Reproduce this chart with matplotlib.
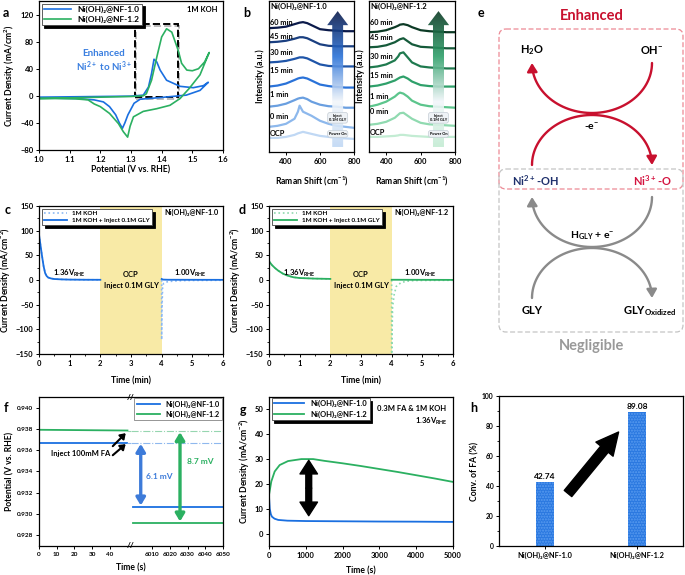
import numpy as np
import matplotlib
matplotlib.use("Agg")
from matplotlib import pyplot as plt
from matplotlib import patches
from matplotlib.path import Path
from matplotlib.colors import LinearSegmentedColormap

plt.rcParams["font.family"] = ["Lato", "DejaVu Sans"]
plt.rcParams["font.weight"] = "bold"
plt.rcParams["axes.labelweight"] = "bold"
plt.rcParams["mathtext.default"] = "regular"
plt.rcParams["axes.linewidth"] = 0.9
plt.rcParams["xtick.labelsize"] = 5.5
plt.rcParams["ytick.labelsize"] = 5.5
plt.rcParams["axes.labelsize"] = 6.2
plt.rcParams["axes.labelpad"] = 2
for k in ["xtick", "ytick"]:
    plt.rcParams[k + ".major.size"] = 2.5
    plt.rcParams[k + ".major.width"] = 0.7
    plt.rcParams[k + ".minor.size"] = 1.5
    plt.rcParams[k + ".minor.width"] = 0.6
    plt.rcParams[k + ".major.pad"] = 1.5

BLUE = "#1a6fe0"
GREEN = "#2bb061"
NAME1 = "Ni(OH)\u2082@NF-1.0"
NAME2 = "Ni(OH)\u2082@NF-1.2"

# ---- a: CV curves
cv1_v = [1.0, 1.1, 1.2, 1.3, 1.34, 1.357, 1.367, 1.375, 1.384, 1.395, 1.416, 1.46, 1.503, 1.536, 1.552,
         1.525, 1.48, 1.395, 1.33, 1.31, 1.29, 1.28, 1.272, 1.262, 1.25, 1.23, 1.21, 1.18, 1.12, 1.0]
cv1_j = [-2, -1.5, -1, -0.5, 1, 13, 33, 54, 50, 38, 23, 14, 12, 15, 20,
         8, 1, -2.6, -5, -11, -28, -40, -48, -40, -28, -16, -9, -6, -4, -3]
cv2_v = [1.0, 1.1, 1.2, 1.3, 1.34, 1.35, 1.367, 1.384, 1.40, 1.416, 1.433, 1.454, 1.465, 1.482, 1.50, 1.52,
         1.54, 1.555,
         1.525, 1.49, 1.46, 1.427, 1.384, 1.34, 1.308, 1.297, 1.289, 1.275, 1.259, 1.23, 1.20, 1.18, 1.16,
         1.12, 1.05, 1.0]
cv2_j = [-4, -3, -2, -1, 0, 3, 23, 57, 87, 99, 94, 67, 48, 38, 37, 40, 50, 64,
         31, 11, -4, -14, -19, -23, -31, -45, -61, -53, -41, -26, -16, -12, -6, -4.5, -4, -4]

# ---- b: Raman spectra
raman_x = [300, 350, 400, 450, 470, 480, 500, 525, 550, 600, 650, 700, 750, 800]
raman_labels = ["60 min", "45 min", "30 min", "15 min", "1 min", "0 min", "OCP"]
raman1 = [
    [123, 123.5, 124.5, 127, 128, 128.5, 129, 128, 126, 122, 121, 120.5, 120, 120],
    [109, 109.5, 110.5, 112.5, 113.5, 114, 114, 113, 111, 107, 105.5, 105, 105, 105],
    [89, 89.5, 90.5, 92.5, 93.5, 94, 94, 93, 91, 87, 85.5, 85, 85, 85],
    [65, 66, 68, 71.5, 73, 73.5, 74, 73, 71, 67, 65.5, 64.5, 64, 64],
    [45, 46, 48, 51.5, 53, 53.5, 54, 52.5, 50, 47, 45.5, 45, 44, 44],
    [25, 26, 28, 33, 40, 46, 40, 38, 36, 31, 28, 26, 25, 24],
    [14, 14, 15, 17, 18.5, 19, 20, 19, 18, 16, 15, 14, 13.5, 13],
]
raman2 = [
    [119, 119.5, 121, 124, 125.5, 126.5, 127, 126, 124, 121, 120, 119.5, 119, 119],
    [104, 104.5, 106, 109, 111, 112, 113, 110, 107, 104.5, 104, 103.5, 103, 103],
    [84, 85, 87, 91, 95, 98, 99, 94, 89, 85, 84, 83.5, 83, 83],
    [65, 66, 68, 71, 73, 74, 75, 73, 70, 66.5, 65.5, 65, 65, 65],
    [45, 47, 50, 55, 58, 59, 58, 55, 51, 47, 45.5, 45, 44.5, 44],
    [27, 28, 30, 34, 37, 38.5, 39, 36, 33, 29, 27.5, 27, 26.5, 26],
    [15, 15, 15.5, 16, 16.5, 17, 17, 16.5, 16, 15.5, 15, 15, 15, 15],
]
raman_label_y1 = [129, 115, 99, 81, 57, 35, 18]
raman_label_y2 = [129, 114, 95, 76, 55, 40, 19]
raman_colors1 = ["#0b1a4a", "#1a3f80", "#1f55a8", "#2a72d8", "#6a9fe0", "#8db8ec", "#c0d8f4"]
raman_colors2 = ["#0c3a25", "#155a3a", "#1f7a4f", "#2fa06a", "#5cc58c", "#90dab0", "#c3ecd3"]

# ---- c, d: chronoamperometry
c_t_on = [0, 0.05, 0.1, 0.15, 0.2, 0.25, 0.3, 0.4, 0.5, 0.75, 1.0, 1.5, 2.0]
c_j_on = [92, 70, 48, 28, 14, 8, 5, 3, 2, 1.2, 0.8, 0.5, 0.4]
c_t_off = [4.0, 4.05, 4.2, 6.0]
c_j_off = [2, 0.8, 0.5, 0.3]
c_t_koh = [4.0, 4.0, 4.01, 4.03, 4.06, 4.15, 4.4, 4.8, 6.0]
c_j_koh = [0, -121, -60, -15, -7, -4, -2, -1, -0.5]
d_t_on = [0, 0.1, 0.2, 0.3, 0.45, 0.6, 0.8, 1.0, 1.5, 2.0]
d_j_on = [38, 30, 24, 19, 13, 9, 5.5, 4, 2.8, 2.2]
d_t_off = [4.0, 6.0]
d_j_off = [0.5, 0.2]
d_t_koh = [4.0, 4.0, 4.03, 4.08, 4.15, 4.31, 4.5, 4.75, 6.0]
d_j_koh = [0, -150, -55, -30, -13, -5, -2.5, -1, -0.5]

# ---- f: potential before / after FA injection
f_t_before = [0, 50]
f_blue_before = [0.9367, 0.9367]
f_green_before = [0.93792, 0.93785]
f_t_after = [5999, 6050]
f_blue_after = [0.93065, 0.93065]
f_green_after = [0.92915, 0.92915]
f_yticks = [0.928, 0.930, 0.932, 0.934, 0.936, 0.938, 0.940]

# ---- g: current vs time
g_t1 = [0, 20, 50, 80, 150, 250, 500, 1000, 2000, 3000, 4000, 5000]
g_j1 = [15, 10, 7.8, 6.8, 6.0, 5.5, 5.2, 5.05, 4.95, 4.85, 4.8, 4.7]
g_t2 = [0, 0, 63, 154, 290, 517, 880, 1200, 1500, 2000, 2500, 3000, 3500, 4000, 4500, 5000]
g_j2 = [60, 15.6, 21, 25, 27.6, 29.2, 30.0, 30.0, 29.3, 28.3, 27.2, 26.0, 24.8, 23.5, 22.2, 20.8]

# ---- h: conversion
h_names = [NAME1, NAME2]
h_vals = [42.74, 89.08]

W, H = 685, 575
fig = plt.figure(figsize=(6.85, 5.75), dpi=100)


def px_axes(l, t, r, b):
    return fig.add_axes([l / W, 1 - b / H, (r - l) / W, (b - t) / H])


def shadow_legend(ax, **kw):
    leg = ax.legend(frameon=True, fancybox=False, shadow={"color": "black", "alpha": 1}, **kw)
    leg.get_frame().set_edgecolor("#444444")
    leg.get_frame().set_linewidth(0.6)
    return leg


# ================= a
ax = px_axes(39, 1, 223, 150)
ax.plot(cv1_v, cv1_j, color=BLUE, lw=1.2, label=NAME1)
ax.plot(cv2_v, cv2_j, color=GREEN, lw=1.2, label=NAME2)
ax.set_xlim(1.0, 1.6)
ax.set_ylim(-80, 140)
ax.set_xticks(np.arange(1.0, 1.61, 0.1))
ax.set_yticks([-80, -40, 0, 40, 80, 120])
ax.set_xlabel("Potential (V vs. RHE)")
ax.set_ylabel("Current Density (mA/cm$^2$)")
shadow_legend(ax, loc="upper left", bbox_to_anchor=(0.0, 1.0), fontsize=6,
              handlelength=3.2, borderpad=0.3, labelspacing=0.3, borderaxespad=0.3)
ax.text(1.583, 128, "1M KOH", ha="right", va="center", fontsize=5.5)
ax.text(1.212, 51, "Enhanced\nNi$^{2+}$ to Ni$^{3+}$", ha="center", va="center", color="#3a7fe0",
        fontsize=7, linespacing=1.1)
ax.add_patch(patches.Rectangle((1.317, -5), 0.14, 108, fill=False, ec="#bbbbbb", lw=1.4, ls="--"))
ax.add_patch(patches.Rectangle((1.313, -2), 0.14, 108, fill=False, ec="black", lw=1.4, ls="--"))

# ================= b
for (l, r), name, spectra, ylabs, cols in [
    ((269, 354), NAME1, raman1, raman_label_y1, raman_colors1),
    ((369, 455), NAME2, raman2, raman_label_y2, raman_colors2),
]:
    ax = px_axes(l, 1, r, 152)
    for s, lab, ly, c in zip(spectra, raman_labels, ylabs, cols):
        ax.plot(raman_x, s, color=c, lw=1.6)
        ax.text(306, ly, lab, ha="left", va="center", fontsize=5.3)
    ax.text(308, 145, name, ha="left", va="center", fontsize=5.5)
    # gradient arrow
    verts = [(672, 5), (736, 5), (736, 126), (766, 126), (704, 140), (642, 126), (672, 126)]
    poly = patches.Polygon(verts, closed=True, fc="none", ec="none")
    ax.add_patch(poly)
    cmap = LinearSegmentedColormap.from_list("g", [cols[-1], "#f3f7fb", cols[3], cols[0]])
    grad = np.linspace(0, 1, 256).reshape(-1, 1)
    im = ax.imshow(grad, extent=(640, 768, 5, 140), origin="lower", cmap=cmap, aspect="auto",
                   alpha=0.9, zorder=3)
    im.set_clip_path(poly)
    bb = dict(boxstyle="round,pad=0.35,rounding_size=0.6", fc="#eef2f6", ec="#c5cdd5", lw=0.5)
    ax.text(704, 34, "Inject\n0.1M GLY", ha="center", va="center", fontsize=2.8, bbox=bb, zorder=4,
            linespacing=1.0)
    ax.text(704, 18, "Power On", ha="center", va="center", fontsize=2.8, bbox=bb, zorder=4)
    ax.set_xlim(300, 800)
    ax.set_ylim(0, 150)
    ax.set_xticks([400, 600, 800])
    ax.set_yticks([])
    ax.set_xlabel("Raman Shift (cm$^{-1}$)", labelpad=7)
    ax.set_ylabel("Intensity (a.u.)", labelpad=3)

# ================= c, d
for (l, r), name, col, dcol, t_on, j_on, t_off, j_off, t_k, j_k in [
    ((39, 223), NAME1, BLUE, "#8ab8f2", c_t_on, c_j_on, c_t_off, c_j_off, c_t_koh, c_j_koh),
    ((269, 453), NAME2, GREEN, "#8fd8ad", d_t_on, d_j_on, d_t_off, d_j_off, d_t_koh, d_j_koh),
]:
    ax = px_axes(l, 206, r, 354)
    ax.axvspan(2, 4, color="#f8eaa6", lw=0, zorder=0)
    ax.plot(t_on, j_on, color=dcol, lw=1.2, ls=":")
    ax.plot(t_k, j_k, color=dcol, lw=1.2, ls=":", label="1M KOH")
    ax.plot(t_on, j_on, color=col, lw=1.3, label="1M KOH + Inject 0.1M GLY")
    ax.plot(t_off, j_off, color=col, lw=1.3)
    ax.set_xlim(0, 6)
    ax.set_ylim(-150, 150)
    ax.set_xticks(range(0, 7))
    ax.set_yticks(range(-150, 151, 50))
    ax.set_xticks(np.arange(0, 6.01, 0.5), minor=True)
    ax.set_yticks(range(-150, 151, 25), minor=True)
    ax.set_xlabel("Time (min)", labelpad=7)
    ax.set_ylabel("Current Density (mA/cm$^{-2}$)")
    shadow_legend(ax, loc="upper left", bbox_to_anchor=(0.01, 0.99), fontsize=4.6,
                  handlelength=3.6, borderpad=0.3, labelspacing=0.25, borderaxespad=0.2)
    ax.text(5.85, 137, name, ha="right", va="center", fontsize=5.2)
    ax.text(1.0, 13, "1.36V$_{RHE}$", ha="center", va="center", fontsize=5.5)
    ax.text(3, 12, "OCP", ha="center", va="center", fontsize=5.5)
    ax.text(3, -12, "Inject 0.1M GLY", ha="center", va="center", fontsize=5.5)
    ax.text(4.95, 13, "1.00V$_{RHE}$", ha="center", va="center", fontsize=5.5)

# ================= e (scheme, pixel coordinates)
ax = px_axes(470, 0, 685, 440)
ax.set_xlim(470, 685)
ax.set_ylim(440, 0)
ax.axis("off")
RED = "#c8102e"
GREY = "#8a8a8a"
ax.add_patch(patches.FancyBboxPatch((499, 29), 184, 160, boxstyle="round,pad=0,rounding_size=7",
                                    fc="none", ec="#ec8a95", lw=0.9, ls=(0, (4, 2))))
ax.add_patch(patches.FancyBboxPatch((499, 169), 184, 163, boxstyle="round,pad=0,rounding_size=7",
                                    fc="none", ec="#c4c4c4", lw=0.9, ls=(0, (4, 2))))


def arc(y_end, sign, color, reverse):
    th = np.linspace(0, np.pi, 60)
    x = 592 - 60 * np.cos(th)
    y = y_end + sign * 50 * np.sin(th)
    pts = np.column_stack([x, y])
    if reverse:
        pts = pts[::-1]
    ax.add_patch(patches.FancyArrowPatch(path=Path(pts), arrowstyle="-|>,head_length=0.5,head_width=0.3",
                                         mutation_scale=10, color=color, lw=1.7))


arc(63, 1, RED, True)      # OH- -> H2O
arc(165, -1, RED, False)   # Ni2+ -> Ni3+
arc(197, 1, GREY, True)    # Ni3+ -> Ni2+
arc(298, -1, GREY, False)  # GLY -> GLY oxidized
ax.text(592, 16, "Enhanced", ha="center", va="center", color=RED, fontsize=10.5)
ax.text(592, 346, "Negligible", ha="center", va="center", color="#999999", fontsize=10.5)
ax.text(532, 50, "H$_2$O", ha="center", va="center", fontsize=8)
ax.text(652, 50, "OH$^{-}$", ha="center", va="center", fontsize=8)
ax.text(592, 127, "-e$^{-}$", ha="center", va="center", fontsize=7.5)
ax.text(535, 181, "Ni$^{2+}$-OH", ha="center", va="center", fontsize=8, color="#1d2f6b")
ax.text(652, 181, "Ni$^{3+}$-O", ha="center", va="center", fontsize=8, color="#d4123e")
ax.text(592, 236, "H$_{GLY}$ + e$^{-}$", ha="center", va="center", fontsize=7.5)
ax.text(532, 311, "GLY", ha="center", va="center", fontsize=8)
ax.text(650, 311, "GLY$_{Oxidized}$", ha="center", va="center", fontsize=8)

# ================= f (broken x axis)
fl = px_axes(39, 397, 131, 546)
fr = px_axes(131, 397, 223, 546)
fl.plot(f_t_before, f_blue_before, color=BLUE, lw=1.3)
fl.plot(f_t_before, f_green_before, color=GREEN, lw=1.3)
fl.plot([f_t_before[-1], 52], [f_blue_before[-1]] * 2, color="#8fb8ee", lw=0.8, ls="-.")
fl.plot([f_t_before[-1], 52], [f_green_before[-1]] * 2, color="#96d6b0", lw=0.8, ls="-.")
fr.plot([5998, 6050], [f_blue_before[-1]] * 2, color="#8fb8ee", lw=0.8, ls="-.")
fr.plot([5998, 6050], [f_green_before[-1]] * 2, color="#96d6b0", lw=0.8, ls="-.")
fr.plot(f_t_after, f_blue_after, color=BLUE, lw=1.3, label=NAME1)
fr.plot(f_t_after, f_green_after, color=GREEN, lw=1.3, label=NAME2)
for a in (fl, fr):
    a.set_ylim(0.927, 0.941)
    a.tick_params(labelsize=4.6)
fl.set_xlim(0, 52)
fr.set_xlim(5998, 6050)
fl.set_xticks(range(0, 41, 10))
fl.set_yticks(f_yticks)
fl.set_yticklabels([f"{v:.3f}" for v in f_yticks])
fr.set_xticks(range(6010, 6051, 10))
fr.set_yticks([])
fl.spines["right"].set_visible(False)
fr.spines["left"].set_visible(False)
fl.set_ylabel("Potential (V vs. RHE)")
fig.text(131 / W, 1 - 568 / H, "Time (s)", ha="center", va="center", fontsize=6.2)
for yy in (397, 546):
    fig.text(131 / W, 1 - yy / H, "//", ha="center", va="center", fontsize=6)
fr.annotate("", xy=(6003.5, 0.9366), xytext=(6003.5, 0.9308),
            arrowprops=dict(arrowstyle="<|-|>,head_length=0.5,head_width=0.3", color="#3d7bd9", lw=2.4,
                            mutation_scale=9, shrinkA=0, shrinkB=0))
fr.annotate("", xy=(6025.7, 0.9377), xytext=(6025.7, 0.9293),
            arrowprops=dict(arrowstyle="<|-|>,head_length=0.5,head_width=0.3", color=GREEN, lw=2.4,
                            mutation_scale=9, shrinkA=0, shrinkB=0))
fr.text(6014, 0.9335, "6.1 mV", color="#3d7bd9", ha="center", va="center", fontsize=6)
fr.text(6037, 0.9349, "8.7 mV", color=GREEN, ha="center", va="center", fontsize=6)
fl.text(23.7, 0.93572, "Inject 100mM FA", ha="center", va="center", fontsize=5.5)
for (x0, y0), (x1, y1) in [((41.7, 0.93638), (49, 0.93760)), ((41.7, 0.93553), (49, 0.93657))]:
    fl.annotate("", xy=(x1, y1), xytext=(x0, y0),
                arrowprops=dict(arrowstyle="-|>,head_length=0.5,head_width=0.35", color="black", lw=1.5,
                                mutation_scale=6, shrinkA=0, shrinkB=0))
leg = fr.legend(loc="upper right", bbox_to_anchor=(1.0, 1.0), fontsize=5.2, frameon=True, fancybox=False,
                handlelength=3.2, borderpad=0.3, labelspacing=0.4, borderaxespad=0.15)
leg.get_frame().set_edgecolor("#666666")
leg.get_frame().set_linewidth(0.6)

# ================= g
ax = px_axes(269, 397, 453, 546)
ax.plot(g_t1, g_j1, color=BLUE, lw=1.3, label=NAME1)
ax.plot(g_t2, g_j2, color=GREEN, lw=1.3, label=NAME2)
ax.set_xlim(0, 5000)
ax.set_ylim(-5, 55)
ax.set_xticks(range(0, 5001, 1000))
ax.set_yticks(range(0, 51, 10))
ax.set_xlabel("Time (s)", labelpad=6)
ax.set_ylabel("Current Density (mA/cm$^{-2}$)")
shadow_legend(ax, loc="upper left", bbox_to_anchor=(0.01, 1.0), fontsize=5.5,
              handlelength=4.0, borderpad=0.3, labelspacing=0.4, borderaxespad=0.1)
ax.text(3886, 50.4, "0.3M FA & 1M KOH", ha="center", va="center", fontsize=5.5)
ax.text(4864, 45.2, "1.36V$_{RHE}$", ha="right", va="center", fontsize=5.5)
for tip in (29.5, 7.2):
    ax.annotate("", xy=(1080, tip), xytext=(1080, 18.3),
                arrowprops=dict(arrowstyle="simple,head_length=0.7,head_width=0.9,tail_width=0.3",
                                color="black", mutation_scale=14, shrinkA=0, shrinkB=0))

# ================= h
ax = px_axes(499, 396, 683, 546)
xpos = np.arange(len(h_vals))
bars = ax.bar(xpos, h_vals, width=0.2, color="#2a78e0", edgecolor="#5a9cf0", hatch="......", lw=0)
for x, v in zip(xpos, h_vals):
    ax.text(x, v + 1.5, f"{v:.2f}", ha="center", va="bottom", fontsize=6)
ax.set_xlim(-0.5, 1.5)
ax.set_ylim(0, 100)
ax.set_xticks(xpos)
ax.set_xticklabels(h_names, fontsize=5.3)
ax.set_yticks(range(0, 101, 20))
ax.set_yticks(range(0, 101, 10), minor=True)
ax.tick_params(axis="y", labelsize=4.9)
ax.set_ylabel("Conv. of FA (%)")
ax.annotate("", xy=(0.8, 76), xytext=(0.25, 35),
            arrowprops=dict(arrowstyle="simple,head_length=0.8,head_width=0.8,tail_width=0.35",
                            color="black", mutation_scale=20, shrinkA=0, shrinkB=0))

for lab, x, y in [("a", 3, 13), ("b", 243, 13), ("e", 478, 13), ("c", 5, 210), ("d", 239, 210),
                  ("f", 4, 408), ("g", 240, 410), ("h", 470, 408)]:
    fig.text(x / W, 1 - y / H, lab, ha="left", va="center", fontsize=9)

fig.savefig("out.png", dpi=100)
